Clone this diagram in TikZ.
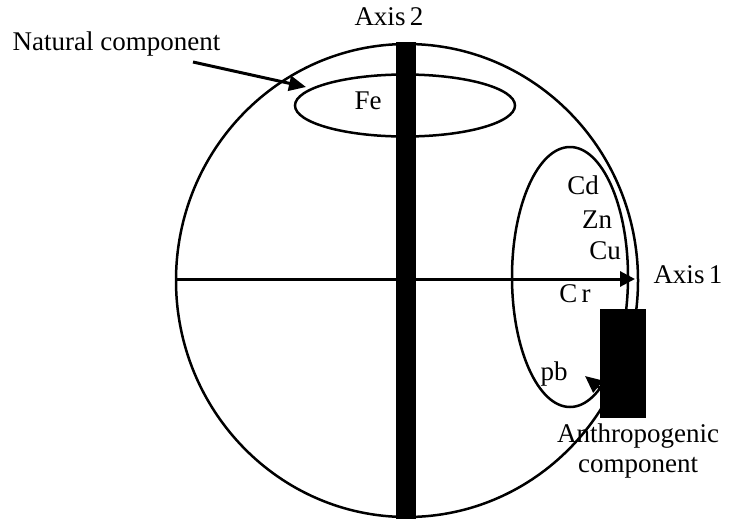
\documentclass[tikz,border=0pt]{standalone}
\usepackage{fontspec}
\setmainfont{Liberation Serif}
\usetikzlibrary{arrows.meta,shapes.geometric}
\begin{document}
\begin{tikzpicture}[x=1pt,y=-1pt,
  font=\fontsize{27}{30}\selectfont,
  lbl/.style={anchor=base,inner sep=0pt},
  ring/.style={draw,ellipse,line width=2.5pt,inner sep=0pt},
  bar/.style={fill=black,draw=none,inner sep=0pt,rectangle},
  pointer/.style={line width=3pt,-{Triangle[length=17pt,width=15pt]}}]
\useasboundingbox (0,0) rectangle (733,523);
% big circle
\node[ring,minimum width=462pt,minimum height=473pt] (big) at (407,280.5) {};
% Fe ellipse
\node[ring,minimum width=220pt,minimum height=62pt] (feell) at (405,105.5) {};
% inner ellipse
\node[ring,minimum width=116pt,minimum height=260pt] (inell) at (570,277) {};
% horizontal axis
\coordinate (axL) at (176,279);
\coordinate (axR) at (635,279);
\draw[line width=3pt,-{Triangle[length=15pt,width=15pt]}] (axL) -- (axR);
% vertical axis bar
\node[bar,minimum width=20pt,minimum height=477pt] (vbar) at (406,280.5) {};
% anthropogenic box
\node[bar,minimum width=46pt,minimum height=109pt] (abox) at (623,363.5) {};
% labels
\node[lbl] (axis2) at (389,25) {Axis\,2};
\node[lbl] (nat) at (116.5,50) {Natural component};
\node[lbl] (fe) at (368,109) {Fe};
\node[lbl] (cd) at (583,194) {Cd};
\node[lbl] (zn) at (597,228) {Zn};
\node[lbl] (cu) at (605,259) {Cu};
\node[lbl] (axis1) at (688,283) {Axis\,1};
\node[lbl] (cr) at (575,302) {C\,r};
\node[lbl] (pb) at (554,380) {pb};
\node[lbl,align=center] (anth) at (638,472) {Anthropogenic\\component};
% arrows
\coordinate (natstart) at (193,62);
\coordinate (nattip) at (306,87);
\draw[pointer] (natstart) -- (nattip);
\coordinate (anthstart) at (618,403);
\coordinate (anthtip) at (585,376);
\draw[pointer] (anthstart) -- (anthtip);
\end{tikzpicture}
\end{document}
